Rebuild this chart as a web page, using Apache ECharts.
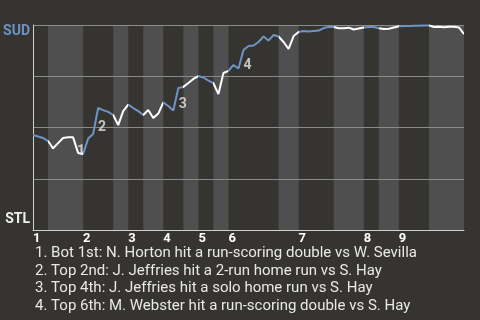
<!DOCTYPE html>
<html>
<head>
<meta charset="utf-8">
<script src="https://cdn.jsdelivr.net/npm/echarts@6/dist/echarts.min.js"></script>
<style>
html,body{margin:0;padding:0;background:#363431;}
#chart{width:480px;height:320px;}
</style>
</head>
<body>
<div id="chart"></div>
<script>
// ---- data ----
const innings = ['1','2','3','4','5','6','7','8','9'];
// plate-appearance index at which each half-inning starts (top 1st, bot 1st, top 2nd, ...)
const halfStarts = [0,3,10,16,19,22,26,30,33,36,39,49,53,60,66,69,73,79];
const lastIndex = 86;
// SUD win probability (%) after each plate appearance
const winProb = [
  46.3,45.6,44.9,43.4,39.8,42.4,44.9,45.2,45.2,37.6,
  37.1,44.6,46.8,59.5,58.5,57.6,56.1,51.2,58.0,61.2,
  59.5,58.0,56.1,58.5,54.6,56.8,62.2,60.5,58.3,69.3,
  69.8,71.7,73.7,75.1,74.4,72.9,71.6,66.3,76.6,77.6,
  80.5,78.8,87.8,89.8,90.0,91.7,94.4,92.4,95.1,94.4,
  91.7,88.3,94.6,96.6,97.1,96.8,97.1,97.3,98.5,99.0,
  99.0,98.4,98.4,98.7,97.8,98.3,98.8,99.0,99.0,98.4,
  98.0,98.2,98.8,99.4,99.5,99.5,99.6,99.6,99.8,99.8,
  99.0,99.2,98.9,99.2,99.2,98.8,95.6
];
const teamTop = 'SUD';
const teamBottom = 'STL';
const eventIdx = [9, 12, 28, 41];
const eventText = [
  'Bot 1st: N. Horton hit a run-scoring double vs W. Sevilla',
  'Top 2nd: J. Jeffries hit a 2-run home run vs S. Hay',
  'Top 4th: J. Jeffries hit a solo home run vs S. Hay',
  'Top 6th: M. Webster hit a run-scoring double vs S. Hay'
];

// ---- styles ----
const BG = '#363431';
const BAND = '#4f4f4f';
const BLUE = '#6d93c5';
const WHITE = '#ffffff';
const labelOffsets = [[3,-1.5],[9,-7],[9.5,-5.5],[9,-2.5]];

// ---- build ----
const lineData = winProb.map((v, i) => [i, v]);
const bands = [];
const pieces = [];
for (let i = 0; i < halfStarts.length; i++) {
  const s = halfStarts[i];
  const e = i + 1 < halfStarts.length ? halfStarts[i + 1] : lastIndex;
  if (i % 2 === 1) bands.push([s, e, 0, 100]);
  const p = { lte: e, color: i % 2 === 0 ? BLUE : WHITE };
  if (i === 0) p.gte = s; else p.gt = s;
  pieces.push(p);
}
const inningStarts = halfStarts.filter((_, i) => i % 2 === 0);
const eventPoints = eventIdx.map((idx, k) => ({
  value: [idx, winProb[idx]],
  name: String(k + 1),
  label: { offset: labelOffsets[k] }
}));
const notes = eventText.map((t, k) => (k + 1) + '. ' + t).join('\n');

const chart = echarts.init(document.getElementById('chart'), null, { renderer: 'canvas' });
chart.setOption({
  backgroundColor: BG,
  animation: false,
  textStyle: { fontFamily: 'Roboto' },
  title: {
    text: notes,
    left: 35,
    top: 244.5,
    padding: 0,
    textStyle: { color: '#e8e8e8', fontSize: 15, fontWeight: 'normal', lineHeight: 17.6, fontFamily: 'Roboto' }
  },
  grid: { left: 33, right: 16, top: 25, bottom: 90, containLabel: false },
  xAxis: {
    type: 'value', min: 0, max: lastIndex,
    axisLine: { show: true, lineStyle: { color: '#cfcfcf', width: 1 } },
    axisTick: { show: false },
    splitLine: { show: false },
    axisLabel: {
      customValues: inningStarts,
      formatter: v => innings[inningStarts.indexOf(v)] || '',
      align: 'left', margin: 2,
      color: '#ffffff', fontWeight: 'bold', fontSize: 13, fontFamily: 'Roboto'
    }
  },
  yAxis: {
    type: 'value', min: 0, max: 100, interval: 25,
    axisLine: { show: true, lineStyle: { color: '#cfcfcf', width: 1 } },
    axisTick: { show: false },
    splitLine: { show: true, lineStyle: { color: '#8a8a8a', width: 1 } },
    axisLabel: {
      margin: 3,
      formatter: v => v === 100 ? '{sud|' + teamTop + '}' : (v === 0 ? '{stl|' + teamBottom + '}' : ''),
      rich: {
        sud: { color: BLUE, fontWeight: 'bold', fontSize: 14, fontFamily: 'Roboto', padding: [12, 0, 0, 0] },
        stl: { color: '#eeeeee', fontWeight: 'bold', fontSize: 14, fontFamily: 'Roboto', padding: [0, 0, 21, 0] }
      }
    }
  },
  visualMap: {
    type: 'piecewise', show: false, dimension: 0, seriesIndex: 1, pieces: pieces
  },
  series: [
    {
      type: 'custom', z: -1, silent: true,
      encode: { x: [0, 1], y: [2, 3] },
      data: bands,
      renderItem: (params, api) => {
        const p0 = api.coord([api.value(0), api.value(3)]);
        const p1 = api.coord([api.value(1), api.value(2)]);
        return { type: 'rect', shape: { x: p0[0], y: p0[1], width: p1[0] - p0[0], height: p1[1] - p0[1] }, style: { fill: BAND } };
      }
    },
    {
      type: 'line', data: lineData, symbol: 'none', z: 3,
      lineStyle: { width: 2 }
    },
    {
      type: 'scatter', data: eventPoints, symbolSize: 0, z: 5, silent: true,
      label: {
        show: true, formatter: p => p.name, position: 'inside',
        color: '#e6e6e6', fontWeight: 'bold', fontSize: 14, fontFamily: 'Roboto'
      }
    }
  ]
});
</script>
</body>
</html>
